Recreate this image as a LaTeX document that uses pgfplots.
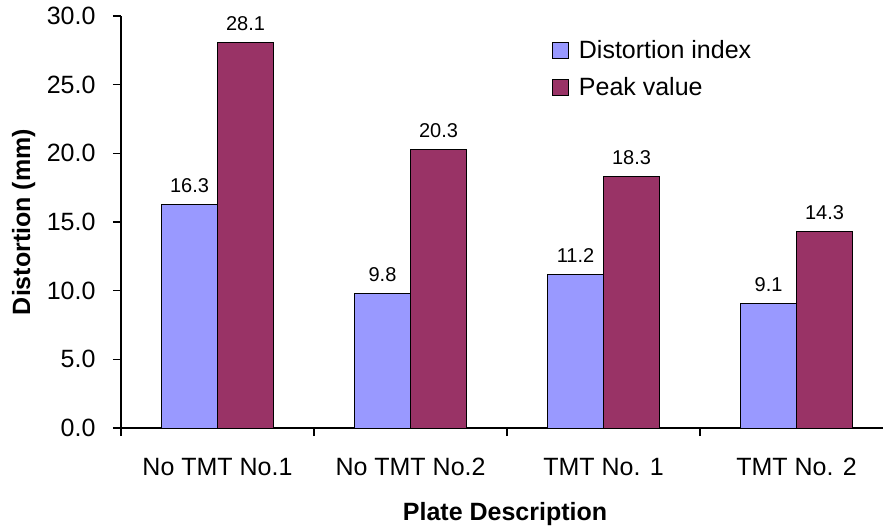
\documentclass[border=0pt]{standalone}
\usepackage{pgfplots}
\pgfplotsset{compat=1.18}
\usepackage{fontspec}
\setmainfont{Liberation Sans}
\definecolor{distblue}{HTML}{9999FF}
\definecolor{peakred}{HTML}{993366}
\newcommand{\bigfont}{\fontsize{25bp}{30bp}\selectfont}
\newcommand{\smallfont}{\fontsize{20bp}{24bp}\selectfont}

\begin{document}
\begin{tikzpicture}
\begin{axis}[
  name=ax,
  scale only axis,
  width=762bp, height=412bp,
  /pgf/number format/assume math mode=true,
  ybar=0pt, bar width=0.29,
  xmin=-0.5, xmax=3.448,
  ymin=0, ymax=30,
  axis lines*=left,
  axis line style={line width=1.5bp, -},
  xtick={-0.5,0.5,1.5,2.5,3.5},
  xticklabels={},
  extra x ticks={0,1,2,3},
  extra x tick labels={No TMT No.1, No TMT No.2, TMT No. 1, TMT No. 2},
  extra x tick style={major tick length=0pt},
  ytick={0,5,...,30},
  tick align=outside,
  major tick length=8bp,
  tick style={black, line width=1.5bp},
  tick label style={font=\bigfont},
  yticklabel style={xshift=-14bp, /pgf/number format/.cd, fixed, fixed zerofill, precision=1},
  xticklabel style={yshift=-27bp},
  every axis y label/.style={at={(axis description cs:-0.1194,0.5)}, rotate=90, anchor=base, font=\bigfont\bfseries},
  every axis x label/.style={at={(axis description cs:0.504,0)}, anchor=base, yshift=-92bp, font=\bigfont\bfseries},
  xlabel={Plate Description},
  ylabel={Distortion (mm)},
  nodes near coords={\pgfmathprintnumber[fixed, fixed zerofill, precision=1]{\pgfplotspointmeta}},
  every node near coord/.append style={font=\smallfont, black, anchor=base, yshift=12bp},
  legend style={draw=none, fill=none, font=\bigfont, at={(axis description cs:0.5656,0.945)}, anchor=north west, row sep=13bp, inner sep=0pt,
    /tikz/every odd column/.append style={column sep=8bp}},
  legend cell align=left,
  legend image code/.code={\draw[#1, draw=black, line width=0.75bp] (0bp,-8bp) rectangle (16bp,8bp);},
]
% distortion index per plate
\addplot[fill=distblue, draw=black, line width=0.75bp] coordinates {(0,16.3) (1,9.8) (2,11.2) (3,9.1)};
% peak distortion per plate
\addplot[fill=peakred, draw=black, line width=0.75bp] coordinates {(0,28.1) (1,20.3) (2,18.3) (3,14.3)};
\legend{Distortion index, Peak value}
\end{axis}
\pgfresetboundingbox
\path ([shift={(-121bp,-101bp)}]ax.south west) rectangle ([shift={(0bp,16bp)}]ax.north east);
\end{tikzpicture}
\end{document}
